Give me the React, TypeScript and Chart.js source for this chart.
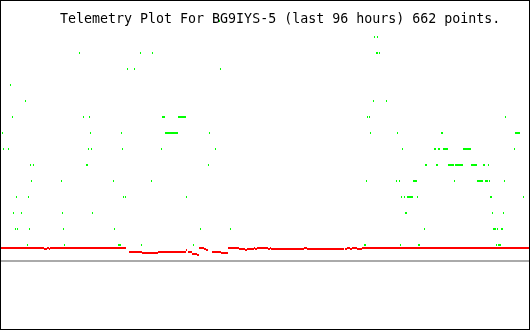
import React, { useEffect, useRef } from "react";
import { Chart, registerables } from "chart.js";

Chart.register(...registerables);

const TITLE = "Telemetry Plot For BG9IYS-5 (last 96 hours) 662 points.";

// Green telemetry samples: time (hours from start of the 96 h window) per discrete level
const level1 = [4.818, 11.545, 21.364, 21.545, 21.727, 25.545, 35.0, 66.091, 66.273, 72.636, 75.909, 76.091, 90.091, 90.455, 90.636, 90.818];
const level2 = [2.636, 3.0, 5.182, 11.364, 20.636, 36.273, 41.727, 77.0, 89.545, 89.727, 89.909, 90.273, 91.0, 91.182];
const level3 = [2.273, 3.727, 11.182, 16.636, 73.545, 73.727, 89.364, 91.364];
const level4 = [2.818, 5.0, 22.273, 22.636, 33.727, 72.818, 73.364, 73.909, 74.091, 74.273, 74.455, 74.636, 74.818, 75.727, 89.0, 89.182, 95.0];
const level5 = [5.545, 11.0, 20.455, 27.364, 66.455, 71.909, 72.455, 75.0, 75.182, 75.364, 75.545, 82.455, 86.636, 86.818, 87.0, 87.182, 87.364, 87.545, 88.091, 88.273, 88.455, 88.818, 91.545];
const level6 = [5.364, 5.909, 15.545, 15.727, 37.727, 77.182, 77.364, 79.182, 79.364, 81.364, 81.545, 81.727, 81.909, 82.091, 82.273, 82.636, 82.818, 83.0, 83.182, 83.364, 83.545, 83.727, 83.909, 85.545, 85.727, 85.909, 86.091, 86.273, 86.455, 87.727, 87.909, 88.636];
const level7 = [0.455, 1.364, 15.909, 16.455, 22.091, 29.182, 39.0, 73.0, 78.818, 79.0, 79.545, 79.727, 80.455, 80.636, 80.818, 81.0, 81.182, 84.091, 84.273, 84.455, 84.636, 84.818, 85.0, 85.182, 85.364, 93.364];
const level8 = [0.273, 16.273, 21.909, 29.909, 30.091, 30.273, 30.455, 30.636, 30.818, 31.0, 31.182, 31.364, 31.545, 31.727, 31.909, 32.091, 37.909, 67.182, 72.091, 80.091, 80.273, 93.545, 93.727, 93.909, 94.091, 94.273];
const level9 = [2.091, 15.0, 16.091, 29.364, 29.545, 29.727, 32.273, 32.455, 32.636, 32.818, 33.0, 33.182, 33.364, 33.545, 66.636, 67.0, 91.727];
const level10 = [4.455, 67.727, 70.091];
const level11 = [1.727];
const level12 = [23.0, 24.273, 39.909];
const level13 = [14.273, 25.364, 27.545, 68.273, 68.455, 68.818];
const level14 = [67.909, 68.455];
const level15 = [39.727];

// Red telemetry channel: runs of constant value (start hour, end hour, raw value)
const redStart = [0, 7.818, 8.364, 8.727, 8.909, 23.273, 25.636, 28.545, 33.636, 34.0, 34.727, 35.636, 36.0, 36.909, 37.273, 38.364, 40.0, 41.273, 43.273, 44.364, 44.727, 46.0, 46.182, 46.545, 48.545, 48.909, 49.091, 55.091, 55.636, 62.364, 62.545, 62.909, 63.455, 63.818, 64.727, 65.636];
const redEnd = [7.818, 8.364, 8.727, 8.909, 22.727, 25.636, 28.545, 33.636, 33.818, 34.727, 35.636, 36.0, 36.909, 37.273, 37.636, 40.0, 41.273, 43.273, 44.364, 44.727, 46.0, 46.182, 46.545, 48.545, 48.909, 49.091, 55.091, 55.636, 62.364, 62.545, 62.909, 63.455, 63.818, 64.727, 65.636, 96];
const redLevel = [13, 12, 13, 12, 13, 9, 8, 9, 11, 9, 7, 6, 13, 12, 11, 9, 8, 13, 12, 11, 12, 13, 12, 13, 12, 13, 12, 13, 12, 13, 12, 13, 12, 13, 12, 13];

const HOURS = [0, 96];

const greenLevels = [level1, level2, level3, level4, level5, level6, level7, level8, level9, level10, level11, level12, level13, level14, level15];

const titlePlugin = {
  id: "plotTitle",
  afterDraw(chart: any) {
    const ctx = chart.ctx;
    ctx.save();
    ctx.font = '13.3px "DejaVu Sans Mono"';
    ctx.fillStyle = "#000000";
    ctx.textBaseline = "alphabetic";
    ctx.textAlign = "left";
    ctx.fillText(TITLE, 59, 22);
    ctx.restore();
  },
};

export default function App() {
  const ref = useRef<HTMLCanvasElement | null>(null);

  useEffect(() => {
    if (!ref.current) return;
    const greenData: { x: number; y: number }[] = [];
    greenLevels.forEach((xs, i) => xs.forEach((x) => greenData.push({ x, y: i + 1 })));

    const redData: { x: number; y: number | null }[] = [];
    for (let i = 0; i < redStart.length; i++) {
      redData.push({ x: redStart[i], y: redLevel[i] });
      redData.push({ x: redEnd[i], y: redLevel[i] });
      redData.push({ x: redEnd[i], y: null });
    }

    const chart = new Chart(ref.current, {
      type: "scatter",
      data: {
        datasets: [
          {
            type: "scatter",
            data: greenData,
            yAxisID: "y",
            showLine: false,
            pointStyle: "line",
            pointRotation: 90,
            rotation: 90,
            pointRadius: 1,
            pointBorderWidth: 1,
            pointBorderColor: "#00ff00",
            pointBackgroundColor: "#00ff00",
            borderColor: "#00ff00",
            backgroundColor: "#00ff00",
            clip: false,
          } as any,
          {
            type: "line",
            data: redData,
            yAxisID: "y2",
            borderColor: "#ff0000",
            borderWidth: 2,
            pointRadius: 0,
            spanGaps: false,
            tension: 0,
            borderCapStyle: "butt",
            fill: false,
          } as any,
          {
            type: "line",
            data: [
              { x: HOURS[0], y: 0 },
              { x: HOURS[1], y: 0 },
            ],
            yAxisID: "y",
            borderColor: "#aaaaaa",
            borderWidth: 2,
            pointRadius: 0,
            tension: 0,
            fill: false,
          } as any,
        ],
      },
      options: {
        animation: false,
        responsive: false,
        devicePixelRatio: 1,
        events: [],
        layout: { padding: 0, autoPadding: false },
        plugins: {
          legend: { display: false },
          tooltip: { enabled: false },
          title: { display: false },
        },
        scales: {
          x: { type: "linear", min: HOURS[0], max: HOURS[1], display: false },
          y: { type: "linear", min: -4.25, max: 16.25, display: false },
          y2: { type: "linear", min: -68, max: 260, display: false },
        },
      } as any,
      plugins: [titlePlugin],
    });
    return () => chart.destroy();
  }, []);

  return (
    <div
      style={{
        position: "fixed",
        left: 0,
        top: 0,
        width: 530,
        height: 330,
        boxSizing: "border-box",
        border: "1px solid #000000",
        background: "#ffffff",
      }}
    >
      <canvas ref={ref} width={528} height={328} style={{ display: "block", width: 528, height: 328 }} />
    </div>
  );
}
